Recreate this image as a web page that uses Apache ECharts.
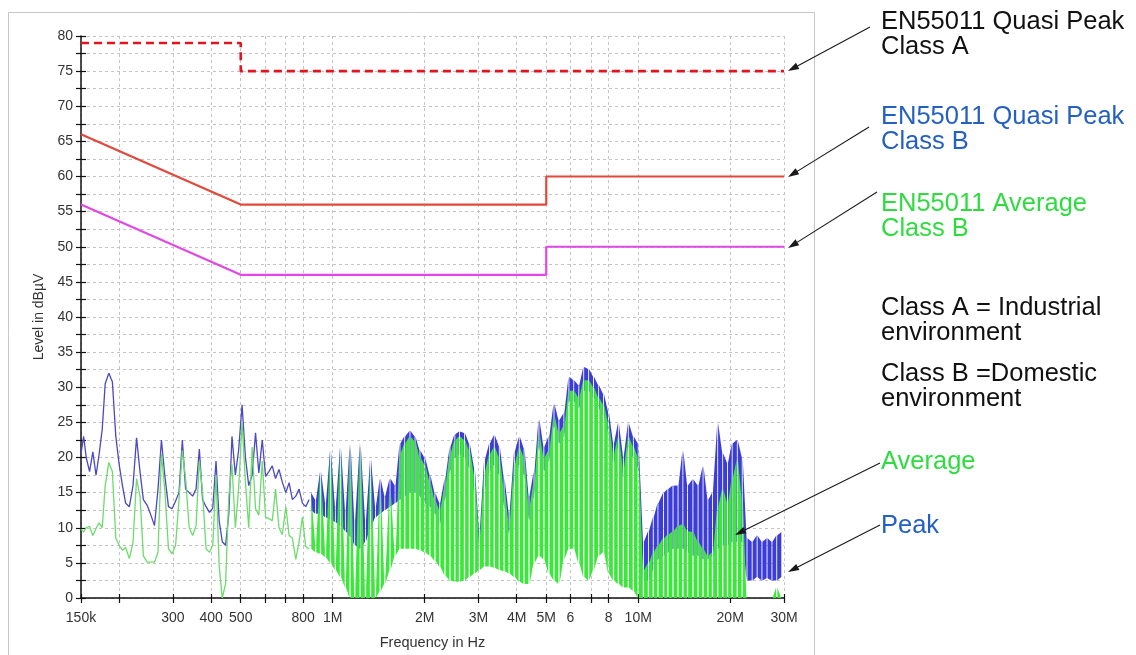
<!DOCTYPE html>
<html><head><meta charset="utf-8">
<script src="https://cdn.jsdelivr.net/npm/echarts@6/dist/echarts.min.js"></script>
<style>html,body{margin:0;padding:0;background:#fff}#c{width:1136px;height:655px}</style>
</head><body><div id="c"></div>
<script>
// ---- axis ticks ----
const xTickFreqHz = [150e3,200e3,300e3,400e3,500e3,600e3,700e3,800e3,1e6,2e6,3e6,4e6,5e6,6e6,7e6,8e6,10e6,20e6,30e6];
const xLabelFreqHz = [150e3,300e3,400e3,500e3,800e3,1e6,2e6,3e6,4e6,5e6,6e6,8e6,10e6,20e6,30e6];
const xLabelText = ['150k','300','400','500','800','1M','2M','3M','4M','5M','6','8','10M','20M','30M'];

// ---- EN55011 limit lines (Hz, dBµV) ----
const limitFreqHz = [150e3, 500e3, 500e3, 5e6, 5e6, 30e6];
const qpClassA = [79, 79, 75, 75, 75, 75];
const qpClassB = [66, 56, 56, 56, 60, 60];
const avClassB = [56, 46, 46, 46, 50, 50];

// ---- measured spectrum, 150 kHz - 840 kHz (kHz, dBµV) ----
const lowFreqKHz = [150,153,156,160,164,168,172,176,180,185, 190,195,200,205,210,216,222,228,234,240,
  247,254,261,268,275,282,290,298,306,314, 322,330,339,348,357,366,375,385,395,405,
  415,425,435,446,457,468,480,492,505,518, 531,545,559,573,588,603,618,634,650,667,
  684,702,720,738,757,776,796,816,837];
const lowPeak = [20.5,23.0,20.0,18.0,20.8,17.5,20.5,24.0,30.5,32.0, 30.8,23.0,19.0,16.0,13.5,13.0,16.0,22.8,18.0,14.0,
  13.2,11.8,10.3,15.5,22.5,17.5,13.0,12.7,13.8,15.0, 22.5,15.5,15.0,14.5,15.5,21.2,14.0,13.0,12.2,12.8,
  19.5,11.0,8.0,7.5,12.0,23.0,17.5,21.0,27.5,20.0, 16.0,17.5,23.5,17.8,22.5,17.3,18.0,18.8,17.0,18.3,
  16.5,15.0,16.4,14.0,14.5,15.5,13.5,13.0,14.0];
const lowAverage = [9.8,9.4,10.0,10.2,8.9,9.9,10.7,10.0,16.0,19.3, 18.0,8.5,7.5,6.8,7.2,5.6,7.9,17.0,14.5,6.0,
  5.1,5.1,5.1,6.5,20.5,15.5,7.0,6.3,7.5,14.0, 21.0,17.0,10.0,8.9,10.3,19.5,15.0,7.0,6.5,7.5,
  17.5,4.5,0,2.0,14.5,19.0,10.0,15.5,25.0,16.5, 10.0,21.5,12.7,11.8,19.5,11.5,11.3,11.0,15.5,10.0,
  9.0,13.0,8.9,8.5,5.5,8.0,11.5,7.3,7.0];

// ---- measured spectrum, 0.85 MHz - 30 MHz: dense harmonic comb (MHz; lower/upper trace level, dBµV) ----
const combFreqMHz = [0.847,0.879,0.912,0.947,0.983,1.02,1.06,1.10,1.14,1.18, 1.23,1.28,1.33,1.38,1.43,1.48,1.54,1.60,1.66,1.72,
  1.79,1.86,1.93,2.00,2.08,2.16,2.24,2.33,2.42,2.51, 2.60,2.70,2.80,2.91,3.02,3.14,3.26,3.38,3.51,3.64,
  3.78,3.93,4.08,4.23,4.39,4.56,4.73,4.91,5.10,5.30, 5.50,5.71,5.93,6.15,6.39,6.63,6.88,7.14,7.42,7.70,
  7.99,8.30,8.61,8.94,9.28,9.64,10.0,10.4,10.8,11.2, 11.6,12.1,12.5,13.0,13.5,14.0,14.5,15.1,15.7,16.3,
  16.9,17.5,18.2,18.9,19.6,20.3,21.1,21.9,22.7,23.6, 24.5,25.4,26.4,27.4,28.4,29.5];
const combAvgTop = [14.5,8.0,17.5,7.0,20.5,5.5,21.0,3.0,21.5,1.5, 21.5,1.5,19.0,1.5,16.0,3.0,15.5,6.5,20.5,22.0,
  23.0,22.3,20.0,19.0,16.5,14.0,12.5,16.0,20.5,22.5, 23.0,22.5,21.0,17.5,8.5,18.0,20.5,21.5,20.0,15.5,
  10.5,19.0,21.5,20.0,13.0,16.5,23.5,20.0,21.0,26.0, 23.5,24.5,29.5,29.5,28.5,31.0,31.0,30.0,28.5,27.5,
  25.0,20.5,23.0,18.5,23.0,21.5,20.0,4.0,5.0,6.5, 7.5,8.5,9.0,9.5,10.3,10.5,9.5,9.4,8.0,7.0,
  6.0,6.5,13.0,15.5,13.6,17.0,19.7,14.0,0,0, 0,0,0,0,1.5,0];
const combAvgBottom = [7.0,6.5,6.3,5.8,5.0,4.0,3.0,1.5,0,0, 0,0,0,0,1.0,2.0,4.0,6.0,7.0,7.0,
  7.0,7.0,6.8,6.5,6.0,5.3,4.5,3.2,2.5,2.3, 2.3,2.5,3.0,3.5,4.0,4.5,4.5,4.3,4.0,3.8,
  3.5,3.0,2.3,2.0,2.0,5.0,6.0,5.5,3.5,2.5, 2.0,5.5,7.0,7.0,5.0,3.0,2.5,4.0,6.0,6.5,
  3.5,2.5,2.0,1.5,1.5,1.0,0,0,0,0, 0,0,0,0,0,0,0,0,0,0,
  0,0,0,0,0,0,0,0,0,0, 0,0,0,0,0,0];
const combPeakTop = [15.0,14.0,18.0,13.5,21.0,13.0,21.5,12.5,22.0,11.0, 22.0,11.0,19.8,13.0,17.0,14.5,17.0,16.0,22.0,23.0,
  23.8,23.0,21.0,20.0,17.5,15.0,13.5,17.0,21.5,23.3, 23.7,23.5,22.0,18.5,9.5,19.7,22.0,23.2,21.6,17.0,
  12.0,20.8,23.0,21.3,14.5,18.0,25.5,21.5,23.0,27.7, 25.3,26.3,31.5,31.0,30.3,32.9,32.6,31.5,30.3,29.0,
  26.5,22.0,24.9,20.2,24.9,23.0,22.0,8.0,9.5,11.5, 13.5,15.0,15.5,16.0,16.0,21.0,16.0,16.9,16.0,18.8,
  14.0,15.0,24.9,20.6,19.2,22.0,22.5,20.0,8.5,8.0, 8.9,8.0,8.5,8.0,8.9,9.4];
const combPeakBottom = [12.5,12.0,12.0,11.5,11.2,10.8,10.3,9.5,8.8,7.5, 7.0,8.0,10.0,11.5,12.0,12.5,13.0,13.5,14.0,14.5,
  15.0,15.0,14.5,13.5,13.0,12.0,10.5,14.0,18.0,20.0, 20.5,20.0,18.5,15.0,7.5,15.5,18.0,19.0,17.5,13.0,
  9.0,16.5,19.0,17.5,11.0,14.5,21.5,18.0,19.5,24.5, 22.0,23.0,28.0,28.0,27.0,29.5,29.5,28.5,27.0,26.0,
  23.5,19.0,21.5,17.0,21.5,20.0,18.5,2.5,2.5,4.0, 5.5,6.0,6.5,7.0,7.0,7.0,6.5,6.0,6.0,5.5,
  5.5,6.0,7.0,7.5,7.5,8.0,8.0,8.0,2.5,2.5, 3.0,2.5,2.8,2.5,2.5,3.0];

// ---- build tables ----
const pairs = (xs, ys, k) => xs.map((x, i) => [x * k, ys[i]]);
const combTable = (lo, hi) => combFreqMHz.map((f, i) => [f * 1e6, lo[i], hi[i]]);
const peakComb = combTable(combPeakBottom, combPeakTop);
const avgComb = combTable(combAvgBottom, combAvgTop);

const FONT = '"Liberation Sans", Arial, sans-serif';
const GRID_COLOR = '#c4c4c4';

// each stroke joins one trace sample to the next; a thin gap is left between strokes
function combRender(table, gap, color) {
  return function (params, api) {
    const i = params.dataIndex;
    if (i >= table.length - 1) return null;
    const a = table[i], b = table[i + 1];
    if (!(a[2] > a[1]) && !(b[2] > b[1])) return null;
    const aHi = api.coord([a[0], a[2]]), aLo = api.coord([a[0], a[1]]);
    const bHi = api.coord([b[0], b[2]]), bLo = api.coord([b[0], b[1]]);
    const xa = aHi[0] + gap / 2, xb = bHi[0] - gap / 2;
    return { type: 'polygon',
      shape: { points: [[xa, aHi[1]], [xb, bHi[1]], [xb, bLo[1]], [xa, aLo[1]]] },
      style: { fill: color } };
  };
}

function xLabelFormatter(v) {
  for (let i = 0; i < xLabelFreqHz.length; i++) {
    if (Math.abs(Math.log10(v / xLabelFreqHz[i])) < 0.002) return xLabelText[i];
  }
  return '';
}

const chart = echarts.init(document.getElementById('c'), null, { renderer: 'canvas' });
chart.setOption({
  animation: false,
  backgroundColor: '#ffffff',
  textStyle: { fontFamily: FONT },
  grid: { left: 81, top: 36, width: 703, height: 567, containLabel: false },
  xAxis: [{
    type: 'log', logBase: 10, min: 150e3, max: 30e6,
    name: 'Frequency in Hz', nameLocation: 'middle', nameGap: 37,
    nameTextStyle: { fontSize: 14.5, color: '#333', fontFamily: FONT },
    axisLine: { show: true, lineStyle: { color: '#111', width: 1.5 } },
    axisTick: { show: true, customValues: xTickFreqHz, length: 5, lineStyle: { color: '#111', width: 1.2 } },
    axisLabel: { customValues: xLabelFreqHz, formatter: xLabelFormatter, fontSize: 14, color: '#333', margin: 13, fontFamily: FONT },
    splitLine: { show: true, lineStyle: { color: GRID_COLOR, width: 1, type: [3, 3] } },
    minorTick: { show: false }, minorSplitLine: { show: false }
  }, {
    type: 'log', logBase: 10, min: 150e3, max: 30e6, position: 'bottom', gridIndex: 0,
    axisLine: { show: false },
    axisTick: { show: true, inside: true, customValues: xTickFreqHz, length: 4, lineStyle: { color: '#111', width: 1.2 } },
    axisLabel: { show: false }, splitLine: { show: false }
  }],
  yAxis: [{
    type: 'value', min: 0, max: 80, interval: 5,
    name: 'Level in dBµV', nameLocation: 'middle', nameGap: 33, nameRotate: 90,
    nameTextStyle: { fontSize: 14, color: '#333', fontFamily: FONT },
    axisLine: { show: true, lineStyle: { color: '#111', width: 1.5 } },
    axisTick: { show: true, length: 5, lineStyle: { color: '#111', width: 1.2 } },
    minorTick: { show: true, splitNumber: 2, length: 5, lineStyle: { color: '#111', width: 1.2 } },
    axisLabel: { fontSize: 14, color: '#333', margin: 8, fontFamily: FONT },
    splitLine: { show: true, lineStyle: { color: GRID_COLOR, width: 1, type: [3, 3] } },
    minorSplitLine: { show: true, lineStyle: { color: GRID_COLOR, width: 1, type: [3, 3] } }
  }, {
    type: 'value', min: 0, max: 80, interval: 5, position: 'left',
    axisLine: { show: false },
    axisTick: { show: true, inside: true, length: 5, lineStyle: { color: '#111', width: 1.2 } },
    minorTick: { show: true, splitNumber: 2, length: 5, lineStyle: { color: '#111', width: 1.2 } },
    axisLabel: { show: false }, splitLine: { show: false }, minorSplitLine: { show: false }
  }],
  series: [
    { name: 'Peak comb', type: 'custom', renderItem: combRender(peakComb, 0.9, '#3c3cd6'),
      data: peakComb, encode: { x: 0, y: [1, 2] }, z: 2, silent: true },
    { name: 'Peak', type: 'line', data: pairs(lowFreqKHz, lowPeak, 1e3), showSymbol: false,
      lineStyle: { color: '#4a48c4', width: 1.3 }, z: 3, silent: true },
    { name: 'Average comb', type: 'custom', renderItem: combRender(avgComb, 1.3, '#3ae83a'),
      data: avgComb, encode: { x: 0, y: [1, 2] }, z: 4, silent: true },
    { name: 'Average', type: 'line', data: pairs(lowFreqKHz, lowAverage, 1e3), showSymbol: false,
      lineStyle: { color: '#6cdc6c', width: 1.3 }, z: 5, silent: true },
    { name: 'EN55011 QP Class A', type: 'line', data: pairs(limitFreqHz, qpClassA, 1), showSymbol: false,
      lineStyle: { color: '#e3141e', width: 2.6, type: [8, 5] }, z: 6, silent: true,
      markLine: {
        silent: true, animation: false, symbol: ['none', 'triangle'], symbolSize: [7, 11],
        label: { show: false }, lineStyle: { color: '#1a1a1a', width: 1.1, type: 'solid' },
        itemStyle: { color: '#1a1a1a' },
        emphasis: { disabled: true },
        data: [
          [{ x: 870, y: 27 }, { x: 792.8, y: 68.4 }],
          [{ x: 869, y: 127 }, { x: 792.7, y: 174.1 }],
          [{ x: 877, y: 192 }, { x: 792.7, y: 245.1 }],
          [{ x: 880, y: 463 }, { x: 739.9, y: 532.6 }],
          [{ x: 880, y: 525 }, { x: 792.9, y: 569.5 }]
        ]
      } },
    { name: 'EN55011 QP Class B', type: 'line', data: pairs(limitFreqHz, qpClassB, 1), showSymbol: false,
      lineStyle: { color: '#e2483c', width: 2.2 }, z: 6, silent: true },
    { name: 'EN55011 AV Class B', type: 'line', data: pairs(limitFreqHz, avClassB, 1), showSymbol: false,
      lineStyle: { color: '#e048e6', width: 2.2 }, z: 6, silent: true }
  ],
  graphic: [
    { type: 'rect', silent: true, z: -10, shape: { x: 8.5, y: 12.5, width: 806, height: 660 },
      style: { fill: 'none', stroke: '#c6c6c6', lineWidth: 1 } },
    { type: 'text', x: 881, y: 10, silent: true, style: { text: 'EN55011 Quasi Peak\nClass A', fill: '#111', font: '25.5px ' + FONT, lineHeight: 24.5, verticalAlign: 'top' } },
    { type: 'text', x: 881, y: 105, silent: true, style: { text: 'EN55011 Quasi Peak\nClass B', fill: '#2460c2', font: '25.5px ' + FONT, lineHeight: 24.5, verticalAlign: 'top' } },
    { type: 'text', x: 881, y: 192, silent: true, style: { text: 'EN55011 Average\nClass B', fill: '#2edc40', font: '25.5px ' + FONT, lineHeight: 24.5, verticalAlign: 'top' } },
    { type: 'text', x: 881, y: 296, silent: true, style: { text: 'Class A = Industrial\nenvironment', fill: '#111', font: '25.5px ' + FONT, lineHeight: 24.5, verticalAlign: 'top' } },
    { type: 'text', x: 881, y: 362, silent: true, style: { text: 'Class B =Domestic\nenvironment', fill: '#111', font: '25.5px ' + FONT, lineHeight: 24.5, verticalAlign: 'top' } },
    { type: 'text', x: 881, y: 450, silent: true, style: { text: 'Average', fill: '#2edc40', font: '25.5px ' + FONT, lineHeight: 24.5, verticalAlign: 'top' } },
    { type: 'text', x: 881, y: 514, silent: true, style: { text: 'Peak', fill: '#2460c2', font: '25.5px ' + FONT, lineHeight: 24.5, verticalAlign: 'top' } }
  ]
});
</script>
</body></html>
